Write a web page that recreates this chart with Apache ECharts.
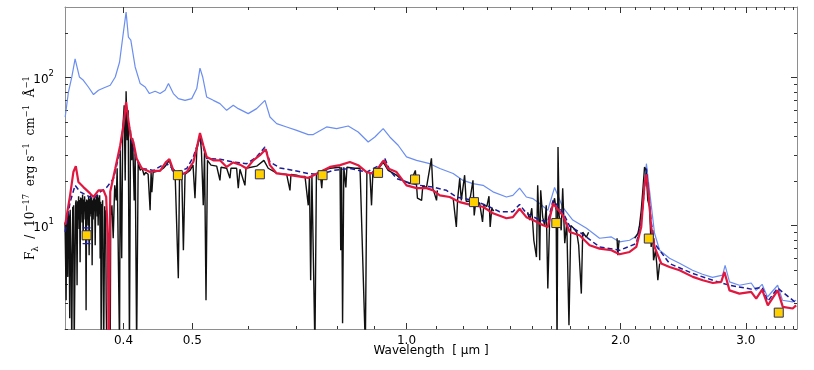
<!DOCTYPE html>
<html>
<head>
<meta charset="utf-8">
<script src="https://cdn.jsdelivr.net/npm/echarts@6/dist/echarts.min.js"></script>
<style>
html, body { margin: 0; padding: 0; background: #fff; }
#chart { width: 814px; height: 370px; }
</style>
</head>
<body>
<div id="chart"></div>
<script>
// axis ticks (wavelength in micron, flux in 1e-17 erg/s/cm2/A)
const xMajorTicks = [0.4, 0.5, 1.0, 2.0, 3.0]
const xMinorTicks = [0.6, 0.7, 0.8, 0.9, 1.1, 1.2, 1.3, 1.4, 1.5, 1.6, 1.7, 1.8, 1.9,
  2.1, 2.2, 2.3, 2.4, 2.5, 2.6, 2.7, 2.8, 2.9, 3.1, 3.2, 3.3, 3.4, 3.5]
const yMajorTicks = [10, 100]
const yMinorTicks = [2, 3, 4, 5, 6, 7, 8, 9, 20, 30, 40, 50, 60, 70, 80, 90, 200]

// upper model (light blue)
const blueWave = [0.3312, 0.3347, 0.3384, 0.3420, 0.3439, 0.3468, 0.3513, 0.3570, 0.3630, 0.3689,
  0.3750, 0.3832, 0.3895, 0.3949, 0.3999, 0.4034, 0.4064, 0.4096, 0.4154, 0.4222,
  0.4291, 0.4350, 0.4431, 0.4503, 0.4577, 0.4627, 0.4701, 0.4777, 0.4882, 0.4989,
  0.5071, 0.5124, 0.5169, 0.5236, 0.5350, 0.5466, 0.5586, 0.5707, 0.5800, 0.5990,
  0.6155, 0.6324, 0.6427, 0.6568, 0.6784, 0.7008, 0.7275, 0.7394, 0.7720, 0.7975,
  0.8280, 0.8551, 0.8833, 0.9026, 0.9272, 0.9474, 0.9732, 1.000, 1.033, 1.078,
  1.114, 1.163, 1.201, 1.240, 1.281, 1.323, 1.382, 1.411, 1.442, 1.474,
  1.506, 1.539, 1.580, 1.615, 1.658, 1.713, 1.791, 1.868, 1.941, 1.993,
  2.059, 2.115, 2.149, 2.174, 2.196, 2.232, 2.269, 2.343, 2.420, 2.524,
  2.607, 2.693, 2.782, 2.805, 2.845, 2.938, 3.052, 3.102, 3.162, 3.217,
  3.325, 3.377, 3.488, 3.530]
const blueFlux = [54.2, 79.9, 101, 134, 131, 101, 95.9, 86.4, 76.8, 82.1,
  85.1, 88.7, 101, 127, 203, 277, 188, 179, 118, 91.1,
  86.4, 78.0, 80.8, 78.0, 82.1, 91.1, 78.0, 72.1, 70.2, 72.1,
  84.3, 116, 101, 74.0, 70.2, 66.7, 60.1, 65.0, 61.7, 57.1,
  61.7, 70.2, 54.2, 48.9, 46.4, 44.0, 41.2, 41.2, 46.4, 45.2,
  47.1, 42.9, 36.7, 39.7, 45.2, 39.7, 34.9, 29.1, 27.6, 26.2,
  24.3, 22.5, 20.2, 19.2, 18.7, 16.9, 15.6, 16.0, 17.9, 15.6,
  15.2, 14.1, 12.7, 18.1, 13.3, 10.9, 9.59, 8.21, 8.38, 7.75,
  7.96, 8.60, 13.4, 26.2, 17.3, 8.87, 6.81, 6.01, 5.56, 4.99,
  4.69, 4.47, 4.62, 5.39, 4.16, 3.95, 4.09, 3.65, 4.01, 3.29,
  3.95, 3.13, 3.05, 3.13]

// observed spectrum (black), null = gap
const blackWave = [0.3310, 0.3316, 0.3322, 0.3328, 0.3333, 0.3340, 0.3345, 0.3350, 0.3356, 0.3361,
  0.3366, 0.3372, 0.3378, 0.3383, 0.3388, 0.3394, 0.3399, 0.3404, 0.3410, 0.3415,
  0.3420, 0.3426, 0.3431, 0.3437, 0.3442, 0.3448, 0.3453, 0.3459, 0.3465, 0.3470,
  0.3476, 0.3482, 0.3487, 0.3493, 0.3499, 0.3504, 0.3510, 0.3516, 0.3521, 0.3527,
  0.3533, 0.3538, 0.3544, 0.3550, 0.3555, 0.3561, 0.3567, 0.3573, 0.3579, 0.3585,
  0.3590, 0.3596, 0.3602, 0.3608, 0.3614, 0.3620, 0.3626, 0.3632, 0.3638, 0.3644,
  0.3650, 0.3656, 0.3661, 0.3667, 0.3673, 0.3679, 0.3685, 0.3691, 0.3697, 0.3703,
  0.3709, 0.3715, 0.3721, 0.3727, 0.3733, 0.3739, 0.3745, 0.3752, 0.3758, 0.3764,
  0.3770, 0.3776, 0.3782, 0.3789, 0.3795, 0.3807, 0.3819, 0.3826, 0.3832, 0.3838,
  0.3853, 0.3869, 0.3888, 0.3907, 0.3919, 0.3949, 0.3958,
  0.3977, 0.3990, 0.4009, 0.4022, 0.4034, 0.4048, 0.4061, 0.4078, 0.4092, 0.4108,
  0.4121, 0.4141, 0.4154, 0.4174, 0.4195, 0.4222, 0.4249, 0.4276, 0.4297, 0.4332,
  0.4360, 0.4374, 0.4385, 0.4403, 0.4457, 0.4503, 0.4551, 0.4591, 0.4641, 0.4684,
  0.4727, 0.4777, 0.4796, 0.4831, 0.4856, 0.4882, 0.4961, 0.5010, 0.5042, 0.5071,
  0.5124, 0.5148, 0.5179, 0.5200, 0.5225, 0.5250, 0.5310, 0.5409, 0.5466, 0.5485,
  0.5586, 0.5646, 0.5664, 0.5769, 0.5800, 0.5832, 0.5927, 0.5947, 0.6155, 0.6302,
  0.6390, 0.6568, 0.6784, 0.6857, 0.6879, 0.7008, 0.7083, 0.7199, 0.7275, 0.7303,
  0.7332, 0.7362, 0.7434, 0.7470, 0.7557, 0.7600, 0.7631, 0.7806, 0.8063, 0.8081,
  0.8104, 0.8130, 0.8163, 0.8217, 0.8244, 0.8459, 0.8603, 0.8752, 0.8796, 0.8881,
  0.8929, 0.8969, 0.9077, 0.9272, 0.9423, 0.9683, 0.9881, 1.011, 1.029, 1.033,
  1.036, 1.050, 1.054, 1.067, 1.084, 1.089, 1.102, 1.105, null,
  1.163, 1.175, 1.180, 1.188, 1.194, 1.207, 1.213, 1.227, 1.240, 1.245,
  1.251, 1.267, 1.279, 1.284, 1.297, 1.306, 1.311, 1.318, 1.326, null,
  1.480, 1.490, 1.500, 1.510, 1.523, 1.529, 1.535, 1.539, 1.544, 1.554,
  1.564, 1.572, 1.580, 1.590, 1.600, 1.615, 1.623, 1.628, 1.633, 1.639,
  1.650, 1.658, 1.669, 1.680, 1.692, 1.702, 1.718, 1.735, 1.746, 1.761,
  1.769, 1.790, 1.803, null,
  1.977, 1.982, 1.990, null,
  2.093, 2.115, 2.126, 2.138, 2.149, 2.161, 2.172, 2.184, 2.196, 2.208,
  2.218, 2.225, 2.239, 2.247, 2.256, 2.269]
const blackFlux = [10.5, 6.0, 3.13, 12.0, 11.7, 4.5, 12.5, 11.7, 7.0, 2.36,
  12.8, 13.1, 5.0, 1.5, 1.5, 13.4, 8.0, 13.7, 1.5, 1.5,
  1.5, 14.2, 14.8, 9.0, 3.95, 14.6, 11.0, 15.8, 9.5, 14.9,
  5.65, 15.5, 12.0, 15.3, 10.5, 16.2, 7.96, 15.0, 12.5, 15.8,
  11.0, 14.5, 2.68, 15.0, 12.0, 14.8, 10.0, 15.6, 6.30, 15.2,
  11.5, 16.0, 12.0, 15.4, 5.39, 14.8, 11.0, 15.3, 12.5, 15.9,
  7.36, 15.0, 12.8, 15.8, 11.5, 16.1, 10.0, 15.5, 12.0, 16.0,
  6.0, 14.5, 1.5, 14.0, 9.0, 14.8, 4.0, 1.5, 1.5, 13.5,
  9.5, 12.7, 3.0, 1.5, 1.5, 1.5, 1.5, 9.0, 1.5, 11.7,
  13.7, 8.21, 18.7, 14.8, 24.4, 1.5, 32.3,
  6.01, 44.0, 65.0, 20.2, 80.8, 37.7, 60.1, 1.5, 44.0, 27.6,
  38.9, 14.8, 32.3, 1.5, 26.8, 23.6, 24.4, 21.9, 22.9, 22.2,
  12.7, 22.9, 16.8, 22.9, 23.3, 23.6, 24.4, 25.6, 27.6, 23.6,
  22.9, 4.40, 22.2, 21.9, 6.81, 22.2, 23.6, 25.6, 15.3, 32.3,
  40.7, 32.3, 13.7, 31.3, 3.13, 27.6, 25.6, 25.2, 20.2, 24.8,
  24.4, 20.9, 24.4, 24.4, 17.9, 24.0, 18.7, 24.4, 25.2, 27.6,
  24.4, 22.6, 22.2, 17.3, 22.2, 21.9, 21.5, 21.5, 13.7, 21.5,
  4.27, 21.9, 1.5, 22.2, 23.3, 17.9, 23.6, 24.4, 24.8, 6.81,
  24.8, 2.19, 24.8, 18.1, 24.8, 24.4, 24.4, 1.5, 22.9, 22.9,
  13.7, 23.3, 23.3, 26.8, 23.6, 21.9, 20.2, 19.2, 23.6, 18.7,
  15.3, 14.8, 18.4, 18.2, 28.5, 17.9, 14.8, 17.3, null,
  15.3, 9.78, 15.1, 20.9, 14.8, 21.9, 14.6, 14.6, 20.2, 11.7,
  14.4, 14.2, 10.6, 13.7, 13.5, 15.8, 9.78, 13.1, 12.5, null,
  12.3, 10.9, 13.1, 7.96, 6.13, 18.7, 10.9, 5.83, 17.3, 11.4,
  10.0, 13.7, 3.75, 11.7, 12.7, 15.3, 12.7, 1.5, 34.0, 11.7,
  9.29, 17.9, 7.59, 10.5, 2.12, 10.0, 9.59, 9.01, 7.36, 3.47,
  9.01, 8.34, 9.01, null,
  8.21, 6.30, 7.96, null,
  8.21, 8.87, 10.0, 12.7, 17.3, 24.9, 23.6, 14.8, 13.4, 7.17,
  9.29, 5.83, 6.81, 5.65, 4.27, 5.54]

// dashed model (navy)
const dashWave = [0.3312, 0.3365, 0.3420, 0.3476, 0.3552, 0.3630, 0.3710, 0.3791, 0.3873, 0.3943,
  0.3999, 0.4034, 0.4064, 0.4096, 0.4174, 0.4245, 0.4407, 0.4591, 0.4753, 0.4909,
  0.5015, 0.5124, 0.5236, 0.5466, 0.5707, 0.5960, 0.6155, 0.6324, 0.6427, 0.6638,
  0.6930, 0.7275, 0.7557, 0.7887, 0.8325, 0.8786, 0.9173, 0.9322, 0.9474, 0.9683,
  1.000, 1.044, 1.090, 1.138, 1.175, 1.240, 1.295, 1.352, 1.411, 1.442,
  1.474, 1.539, 1.580, 1.607, 1.659, 1.696, 1.751, 1.868, 1.993, 2.104,
  2.138, 2.174, 2.208, 2.232, 2.343, 2.527, 2.696, 2.845, 3.052, 3.162,
  3.221, 3.325, 3.530]
const dashFlux = [9.05, 14.4, 18.7, 16.9, 16.0, 15.2, 16.9, 18.2, 20.8, 29.9,
  47.6, 65.0, 51.4, 39.7, 27.6, 24.3, 23.6, 26.4, 23.0, 24.3,
  29.1, 39.7, 28.4, 28.1, 26.9, 26.2, 29.1, 34.0, 26.9, 24.5,
  23.6, 22.5, 22.1, 23.6, 24.3, 23.0, 25.6, 28.4, 23.6, 20.8,
  19.7, 18.7, 18.2, 17.3, 15.6, 14.8, 13.7, 12.4, 12.4, 13.9,
  12.1, 10.9, 10.6, 14.8, 12.3, 9.89, 9.05, 7.17, 6.81, 7.56,
  10.5, 24.3, 10.5, 7.56, 5.54, 4.74, 4.27, 3.95, 3.72, 3.83,
  3.08, 3.78, 3.0]

// best model (red)
const redWave = [0.3312, 0.3365, 0.3401, 0.3428, 0.3457, 0.3513, 0.3590, 0.3630, 0.3689, 0.3750,
  0.3782, 0.3803, 0.3813, 0.3832, 0.3895, 0.3958, 0.3999, 0.4034, 0.4064, 0.4096,
  0.4130, 0.4174, 0.4245, 0.4314, 0.4360, 0.4431, 0.4503, 0.4591, 0.4641, 0.4701,
  0.4804, 0.4909, 0.5015, 0.5081, 0.5124, 0.5179, 0.5236, 0.5350, 0.5466, 0.5586,
  0.5707, 0.5832, 0.5960, 0.6089, 0.6222, 0.6339, 0.6427, 0.6568, 0.6784, 0.7008,
  0.7275, 0.7557, 0.7806, 0.8063, 0.8325, 0.8551, 0.8786, 0.8929, 0.9115, 0.9292,
  0.9423, 0.9683, 1.000, 1.033, 1.067, 1.090, 1.114, 1.150, 1.188, 1.240,
  1.281, 1.323, 1.382, 1.411, 1.442, 1.474, 1.506, 1.556, 1.580, 1.607,
  1.659, 1.696, 1.751, 1.809, 1.868, 1.941, 1.993, 2.059, 2.104, 2.138,
  2.161, 2.174, 2.189, 2.208, 2.232, 2.281, 2.343, 2.420, 2.527, 2.609,
  2.696, 2.770, 2.799, 2.845, 2.938, 3.052, 3.102, 3.162, 3.221, 3.325,
  3.381, 3.491, 3.530]
const redFlux = [10.1, 16.0, 23.0, 25.2, 19.7, 18.2, 16.5, 15.6, 17.3, 17.3,
  15.6, 8.21, 1.0, 16.9, 24.3, 34.9, 47.6, 68.4, 51.4, 39.7,
  36.7, 28.4, 24.3, 23.6, 23.0, 23.4, 23.4, 26.9, 28.1, 23.6,
  21.9, 23.0, 26.9, 34.9, 42.2, 34.9, 29.1, 27.6, 27.6, 24.9,
  26.7, 25.8, 24.3, 27.6, 29.9, 32.8, 25.6, 22.5, 22.1, 21.6,
  21.0, 23.0, 24.9, 25.6, 26.9, 25.6, 23.0, 22.5, 24.3, 27.6,
  24.3, 23.0, 18.7, 17.9, 17.9, 17.3, 16.0, 15.6, 14.4, 13.7,
  13.4, 12.1, 11.2, 11.4, 13.0, 11.4, 10.9, 10.05, 9.78, 14.1,
  11.7, 9.05, 8.60, 7.36, 6.99, 6.81, 6.40, 6.63, 7.17, 9.78,
  19.2, 22.2, 16.5, 9.78, 7.17, 5.54, 5.25, 4.99, 4.50, 4.27,
  4.09, 4.16, 4.86, 3.65, 3.47, 3.56, 3.21, 3.69, 2.89, 3.65,
  2.82, 2.75, 2.89]

// photometry
const photWave = [0.355, 0.477, 0.622, 0.762, 0.912, 1.028, 1.244, 1.624, 2.191, 3.337]
const photFlux = [8.6, 21.9, 22.2, 21.9, 22.7, 20.5, 14.4, 10.4, 8.17, 2.58]
const photErr = [1.05, 0.4, 0.4, 0.4, 0.5, 0.5, 0.4, 0.3, 0.2, 0.05]

const lg = Math.log10
function pairs(w, f) {
  return w.map((x, i) => x == null ? '-' : [lg(x), lg(f[i])])
}

const frameColor = '#8e8e8e'
const tickColor = '#333'
const sans = 'DejaVu Sans'

function xAx(pos, vals, len, main) {
  return {
    type: 'value', position: pos, min: lg(0.331), max: lg(3.54),
    axisLine: { show: main, onZero: false, lineStyle: { color: frameColor, width: 1 } },
    axisTick: { show: true, inside: true, length: len, customValues: vals.map(lg),
      lineStyle: { color: tickColor, width: 1 } },
    axisLabel: { show: false },
    splitLine: { show: false }
  }
}
function yAx(pos, vals, len, main) {
  return {
    type: 'value', position: pos, min: lg(2), max: lg(300),
    axisLine: { show: main, onZero: false, lineStyle: { color: frameColor, width: 1 } },
    axisTick: { show: true, inside: true, length: len, customValues: vals.map(lg),
      lineStyle: { color: tickColor, width: 1 } },
    axisLabel: { show: false },
    splitLine: { show: false }
  }
}

const xBottom = xAx('bottom', xMajorTicks, 6, true)
xBottom.axisLabel = {
  show: true, customValues: xMajorTicks.map(lg), margin: 6,
  fontFamily: sans, fontSize: 12, color: '#000',
  formatter: v => Math.pow(10, v).toFixed(1)
}
xBottom.name = 'Wavelength  [ µm ]'
xBottom.nameLocation = 'middle'
xBottom.nameGap = 16
xBottom.nameMoveOverlap = false
xBottom.nameTextStyle = { fontFamily: sans, fontSize: 12, color: '#000' }

const yLeft = yAx('left', yMajorTicks, 6, true)
yLeft.axisLabel = {
  show: true, customValues: yMajorTicks.map(lg), margin: 11,
  formatter: v => '{b|10}{s|' + Math.round(v) + '}',
  rich: {
    b: { fontFamily: sans, fontSize: 12, color: '#000', verticalAlign: 'bottom', lineHeight: 16 },
    s: { fontFamily: sans, fontSize: 8.5, color: '#000', verticalAlign: 'top', lineHeight: 10 }
  }
}
yLeft.name = '{t|F}{sub|λ}{t|  /  10}{sup|−17}{t|  erg s}{sup|−1}{t|  cm}{sup|−1}{t|  Å}{sup|−1}'
yLeft.nameLocation = 'middle'
yLeft.nameGap = 25
yLeft.nameMoveOverlap = false
yLeft.nameTextStyle = {
  rich: {
    t: { fontFamily: 'DejaVu Serif', fontSize: 12, color: '#000', lineHeight: 18, verticalAlign: 'middle' },
    sup: { fontFamily: 'DejaVu Serif', fontSize: 8.5, color: '#000', lineHeight: 10, verticalAlign: 'top' },
    sub: { fontFamily: 'DejaVu Serif', fontSize: 8.5, color: '#000', lineHeight: 10, verticalAlign: 'bottom' }
  }
}

const errData = photWave.map((w, i) => [lg(w), lg(photFlux[i] - photErr[i]), lg(photFlux[i] + photErr[i])])

const chart = echarts.init(document.getElementById('chart'), null, { renderer: 'canvas' })
chart.setOption({
  animation: false,
  backgroundColor: '#fff',
  grid: { left: 65, right: 17, top: 7, bottom: 41, containLabel: false },
  xAxis: [
    xBottom,
    xAx('bottom', xMinorTicks, 3, false),
    xAx('top', xMajorTicks, 6, true),
    xAx('top', xMinorTicks, 3, false)
  ],
  yAxis: [
    yLeft,
    yAx('left', yMinorTicks, 3, false),
    yAx('right', yMajorTicks, 6, true),
    yAx('right', yMinorTicks, 3, false)
  ],
  series: [
    {
      name: 'model2', type: 'line', data: pairs(blueWave, blueFlux),
      showSymbol: false, symbol: 'none', clip: true,
      lineStyle: { color: '#6b8ef0', width: 1.2 }, z: 1
    },
    {
      name: 'spectrum', type: 'line', data: pairs(blackWave, blackFlux),
      showSymbol: false, symbol: 'none', clip: true, connectNulls: false,
      lineStyle: { color: '#111', width: 1.4 }, z: 2
    },
    {
      name: 'model3', type: 'line', data: pairs(dashWave, dashFlux),
      showSymbol: false, symbol: 'none', clip: true,
      lineStyle: { color: '#1c1c96', width: 1.5, type: [5, 3] }, z: 3
    },
    {
      name: 'model1', type: 'line', data: pairs(redWave, redFlux),
      showSymbol: false, symbol: 'none', clip: true,
      lineStyle: { color: '#e0183f', width: 2.2 }, z: 4
    },
    {
      name: 'err', type: 'custom', data: errData, z: 5,
      encode: { x: 0, y: [1, 2] },
      renderItem: (params, api) => {
        const lo = api.coord([api.value(0), api.value(1)])
        const hi = api.coord([api.value(0), api.value(2)])
        const st = { stroke: '#1f1f9a', lineWidth: 1.2 }
        return {
          type: 'group', children: [
            { type: 'line', shape: { x1: lo[0], y1: lo[1], x2: hi[0], y2: hi[1] }, style: st },
            { type: 'line', shape: { x1: lo[0] - 4, y1: lo[1], x2: lo[0] + 4, y2: lo[1] }, style: st },
            { type: 'line', shape: { x1: hi[0] - 4, y1: hi[1], x2: hi[0] + 4, y2: hi[1] }, style: st }
          ]
        }
      }
    },
    {
      name: 'phot', type: 'scatter', data: pairs(photWave, photFlux), z: 6,
      symbol: 'rect', symbolSize: 9,
      itemStyle: { color: '#ffd000', borderColor: '#2b2b5e', borderWidth: 1, opacity: 1 }
    }
  ]
})
</script>
</body>
</html>
